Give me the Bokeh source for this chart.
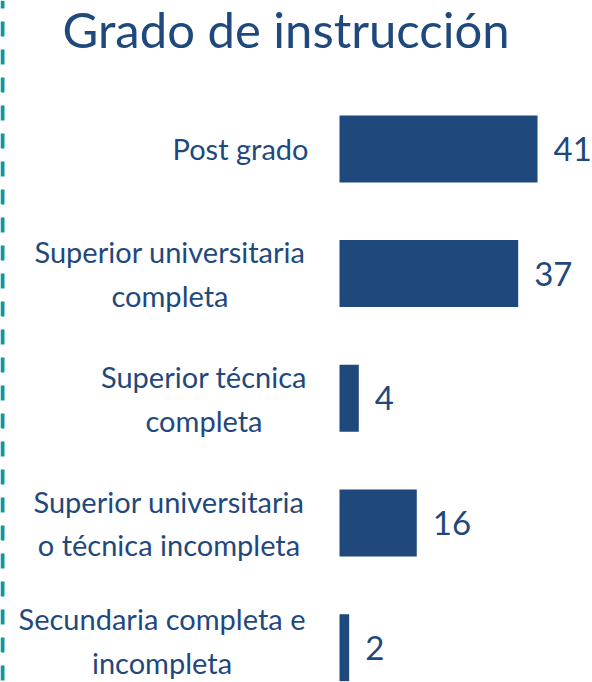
from bokeh.plotting import figure
from bokeh.models import ColumnDataSource, Range1d, Span, Label
from bokeh.core.properties import value
from bokeh.embed import file_html
from bokeh.resources import INLINE

title_text = "Grado de instrucción"
categories = [
    "Post grado",
    "Superior universitaria\ncompleta",
    "Superior técnica\ncompleta",
    "Superior universitaria\no técnica incompleta",
    "Secundaria completa e\nincompleta",
]
counts = [41, 37, 4, 16, 2]

# styling
BAR = "#1F497D"
TXT = "#1F497D"
TEAL = "#10979B"
FONT = "Lato"
label_center_offsets = [-99, -169.5, -135.5, -170.5, -177.5]
label_y_offsets = [0, 0, 0, 0, -7]

n = len(categories)
ypos = [n - 1 - i for i in range(n)]
src = ColumnDataSource(dict(
    y=ypos, cat=categories, val=counts,
    txt=[str(v) for v in counts], loff=label_center_offsets, lyoff=label_y_offsets,
))

W, H = 592, 682
px_per_unit = 4.83
x0_px = 339
row_px = 124.7
last_center_px = 647.2

p = figure(
    width=W, height=H, output_backend="svg", toolbar_location=None,
    x_range=Range1d(-x0_px / px_per_unit, (W - x0_px) / px_per_unit),
    y_range=Range1d(-(H - last_center_px) / row_px, (n - 1) + (last_center_px - (n - 1) * row_px) / row_px),
    min_border=0, min_border_left=0, min_border_right=0, min_border_top=0, min_border_bottom=0,
    outline_line_color=None, background_fill_color="white", border_fill_color="white",
)
p.margin = (0, 0, 0, 0)
p.axis.visible = False
p.grid.visible = False

p.hbar(y="y", left=0, right="val", height=0.537, source=src,
       fill_color=BAR, line_color=None)

p.text(x="val", y="y", text="txt", source=src, x_offset=16,
       text_font=value(FONT), text_font_size="33px", text_color=TXT,
       text_align="left", text_baseline="middle")

p.text(x=0, y="y", text="cat", source=src, x_offset="loff", y_offset="lyoff",
       text_font=value(FONT), text_font_size="29px", text_color=TXT,
       text_align="center", text_baseline="middle", text_line_height=1.25)

p.add_layout(Label(x=62, y=H - 28, x_units="screen", y_units="screen",
                   text=title_text, text_font=FONT, text_font_size="49px",
                   text_color=TXT, text_align="left", text_baseline="alphabetic"))

p.add_layout(Span(location=2, location_units="screen", dimension="height",
                  line_color=TEAL, line_width=4, line_dash="15 13",
                  line_dash_offset=7))

open("out.html", "w").write(file_html(p, INLINE))
